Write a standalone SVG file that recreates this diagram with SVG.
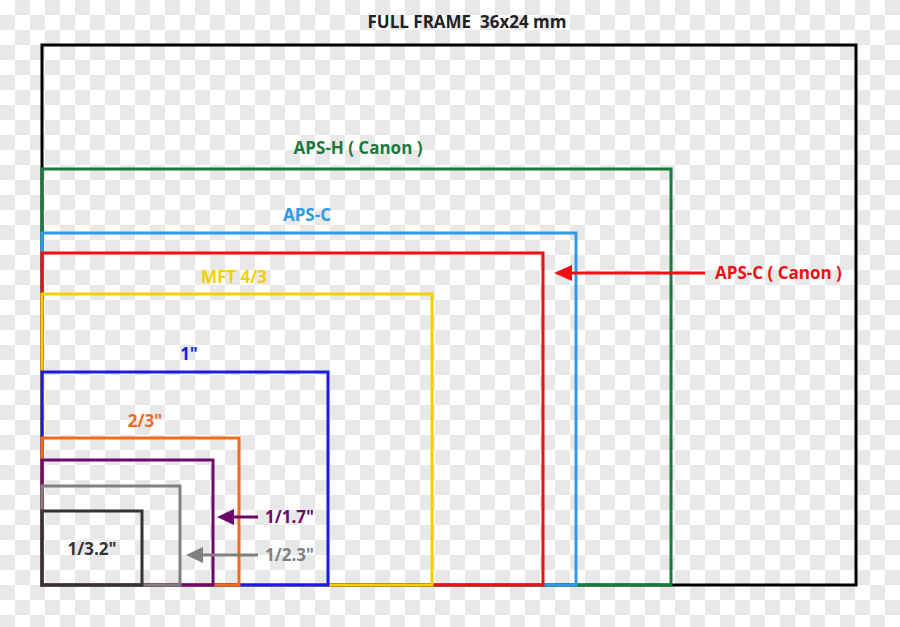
<svg xmlns="http://www.w3.org/2000/svg" width="900" height="627" viewBox="0 0 900 627">
<defs>
<pattern id="chk" width="30" height="30" patternUnits="userSpaceOnUse">
<rect width="30" height="30" fill="#ffffff"/>
<rect x="15" y="0" width="15" height="15" fill="#e8e8e8"/>
<rect x="0" y="15" width="15" height="15" fill="#e8e8e8"/>
</pattern>
</defs>
<style>
rect.f{fill:none;stroke-width:3}
text{font-family:"Open Sans","Liberation Sans",sans-serif;font-weight:bold;font-size:17px}
</style>
<rect width="900" height="627" fill="url(#chk)"/>
<g id="full"><rect class="f" x="42" y="45" width="814" height="540" stroke="#000"/>
<text x="467" y="28" text-anchor="middle" fill="#222">FULL FRAME&#160; 36x24 mm</text></g>
<g id="apsh"><rect class="f" x="42" y="169" width="629" height="416" stroke="#1a7a3e"/>
<text x="358" y="154" text-anchor="middle" fill="#1a7a3e">APS-H ( Canon )</text></g>
<g id="apsc"><rect class="f" x="42" y="233" width="534" height="352" stroke="#2e9be6"/>
<text x="307" y="221" text-anchor="middle" fill="#2e9be6">APS-C</text></g>
<g id="apsccanon"><rect class="f" x="42" y="253" width="501" height="332" stroke="#ee1111"/>
<text x="715" y="279" fill="#ee1111">APS-C ( Canon )</text></g>
<g id="mft"><rect class="f" x="42" y="294" width="390" height="291" stroke="#f5d000"/>
<text x="234" y="283" text-anchor="middle" fill="#f5d000">MFT 4/3</text></g>
<g id="one"><rect class="f" x="42" y="372" width="286" height="213" stroke="#1a1ae6"/>
<text x="189" y="360" text-anchor="middle" fill="#1a1ae6">1"</text></g>
<g id="twothirds"><rect class="f" x="42" y="438" width="197" height="147" stroke="#f26a1b"/>
<text x="145" y="427" text-anchor="middle" fill="#f26a1b">2/3"</text></g>
<g id="s17"><rect class="f" x="42" y="460" width="171" height="125" stroke="#6b0a6b"/>
<text x="265" y="523" fill="#6b0a6b">1/1.7"</text></g>
<g id="s23"><rect class="f" x="42" y="486" width="138" height="99" stroke="#808080"/>
<text x="265" y="561" fill="#808080">1/2.3"</text></g>
<g id="s32"><rect class="f" x="42" y="511" width="100" height="74" stroke="#333"/>
<text x="92" y="555" text-anchor="middle" fill="#333">1/3.2"</text></g>
<g id="connectors">
<line x1="705" y1="273" x2="570" y2="273" stroke="#ee1111" stroke-width="3"/>
<polygon points="554,273 572,265 572,281" fill="#ee1111"/>
<line x1="258" y1="517" x2="232" y2="517" stroke="#6b0a6b" stroke-width="3"/>
<polygon points="217,517 234,509 234,525" fill="#6b0a6b"/>
<line x1="258" y1="555" x2="200" y2="555" stroke="#808080" stroke-width="3"/>
<polygon points="186,555 203,547 203,563" fill="#808080"/>
</g>
</svg>
